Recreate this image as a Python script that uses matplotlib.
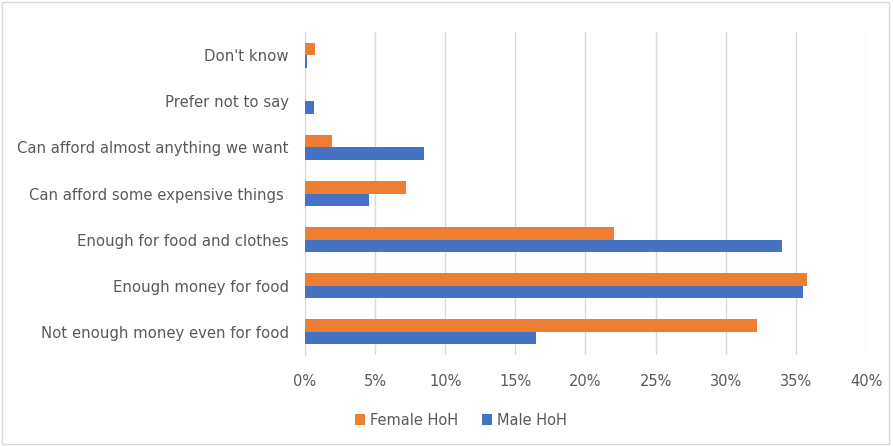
import matplotlib.pyplot as plt
from matplotlib.patches import Rectangle
from matplotlib.ticker import PercentFormatter
import numpy as np

categories = ['Not enough money even for food', 'Enough money for food', 'Enough for food and clothes',
              'Can afford some expensive things ', 'Can afford almost anything we want', 'Prefer not to say',
              "Don't know"]
female = [32.2, 35.8, 22.0, 7.2, 1.9, 0.0, 0.75]
male = [16.5, 35.5, 34.0, 4.6, 8.5, 0.65, 0.18]

orange = '#ED7D31'
blue = '#4472C4'
txt = '#595959'

plt.rcParams['font.family'] = ['DejaVu Sans']

fig = plt.figure(figsize=(8.93, 4.46), dpi=100)
ax = fig.add_axes([0.3415, 0.204, 0.9698 - 0.3415, 0.724])

y = np.arange(len(categories))
h = 0.27
ax.barh(y + h / 2, female, height=h, color=orange, label='Female HoH', zorder=3)
ax.barh(y - h / 2, male, height=h, color=blue, label='Male HoH', zorder=3)

ax.set_xlim(0, 40)
ax.set_ylim(-0.5, len(categories) - 0.5)
ax.set_xticks(np.arange(0, 41, 5))
ax.xaxis.set_major_formatter(PercentFormatter(decimals=0))
ax.set_yticks(y)
ax.set_yticklabels(categories)
ax.grid(axis='x', color='#D9D9D9', linewidth=1, zorder=0)
ax.tick_params(axis='x', length=0, labelsize=10.5, colors=txt, pad=14)
ax.tick_params(axis='y', length=0, labelsize=10.7, colors=txt, pad=11.5)
for s in ['top', 'right', 'bottom']:
    ax.spines[s].set_visible(False)
ax.spines['left'].set_color('#D9D9D9')

ax.legend(loc='center', bbox_to_anchor=(0.516, 0.058), bbox_transform=fig.transFigure, ncol=2,
          frameon=False, fontsize=10.5, labelcolor=txt, handlelength=0.7, handleheight=0.7,
          columnspacing=1.6, handletextpad=0.35)

fig.patches.append(Rectangle((0.002, 0.004), 0.994, 0.992, transform=fig.transFigure,
                             fill=False, edgecolor='#D9D9D9', linewidth=1))

fig.savefig('out.png', dpi=100)
